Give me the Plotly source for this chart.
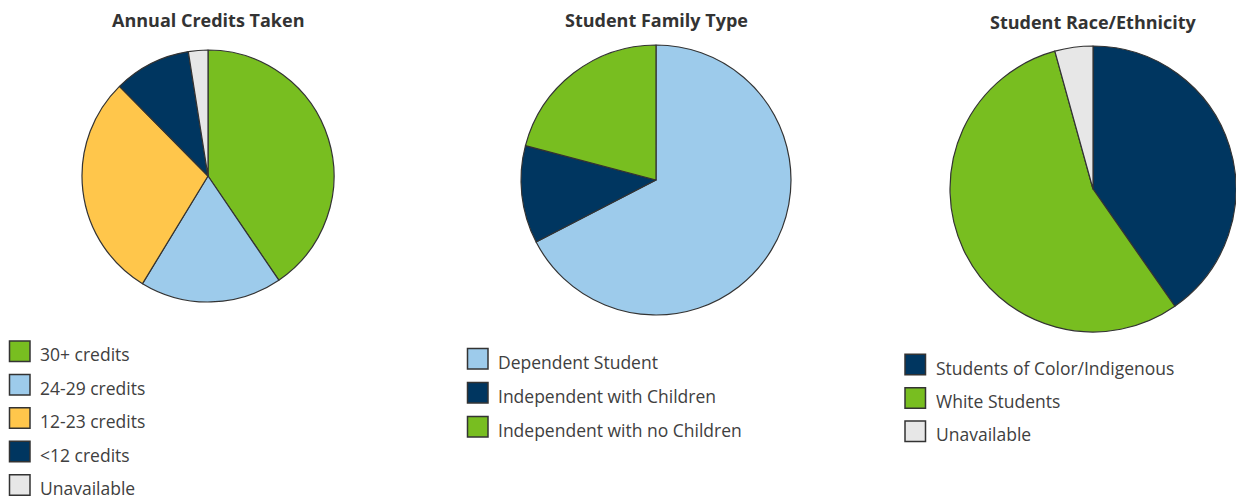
import plotly.graph_objects as go

W, H = 1236, 502

# Chart 1: annual credits taken
credit_labels = ["30+ credits", "24-29 credits", "12-23 credits", "<12 credits", "Unavailable"]
credit_values = [40.5, 18.2, 28.9, 9.9, 2.5]

# Chart 2: student family type
family_labels = ["Dependent Student", "Independent with Children", "Independent with no Children"]
family_values = [67.4, 11.7, 20.9]

# Chart 3: student race/ethnicity
race_labels = ["Students of Color/Indigenous", "White Students", "Unavailable"]
race_values = [40.3, 55.4, 4.3]

GREEN = "#78BE20"
LIGHT_BLUE = "#9DCBEB"
YELLOW = "#FFC64B"
NAVY = "#003660"
GRAY = "#E7E7E7"
OUTLINE = "#333333"
TEXT = "#404040"

credit_colors = [GREEN, LIGHT_BLUE, YELLOW, NAVY, GRAY]
family_colors = [LIGHT_BLUE, NAVY, GREEN]
race_colors = [NAVY, GREEN, GRAY]


def px_x(x):
    return x / W


def px_y(y):
    return 1 - y / H


def domain(left, top, right, bottom):
    return dict(x=[px_x(left), min(px_x(right), 1.0)],
                y=[px_y(bottom), px_y(top)])


charts = [
    # labels, values, colors, pie box (l, t, r, b), title (cx, cy), legend (square x, text x, first y, step)
    (credit_labels, credit_values, credit_colors, (82, 50, 334, 302),
     "Annual Credits Taken", (208, 20), (9.5, 40, 351.3, 33.4)),
    (family_labels, family_values, family_colors, (521, 45, 791, 315),
     "Student Family Type", (656, 20), (467.5, 498, 358.7, 34.0)),
    (race_labels, race_values, race_colors, (950, 45, 1236, 333),
     "Student Race/Ethnicity", (1093, 22.5), (905, 936, 364.5, 33.4)),
]

fig = go.Figure()
shapes = []
annotations = []
SQ = 20.5

for labels, values, colors, box, title, tpos, leg in charts:
    fig.add_trace(go.Pie(
        labels=labels,
        values=values,
        sort=False,
        direction="clockwise",
        rotation=0,
        marker=dict(colors=colors, line=dict(color=OUTLINE, width=1.2)),
        textinfo="none",
        hoverinfo="label+percent",
        showlegend=False,
        domain=domain(*box),
    ))
    annotations.append(dict(
        x=px_x(tpos[0]), y=px_y(tpos[1]), xref="paper", yref="paper",
        xanchor="center", yanchor="middle", showarrow=False,
        text="<b>%s</b>" % title,
        font=dict(family="Open Sans", size=18, color="#333333"),
    ))
    sq_x, text_x, y0, step = leg
    for i, (lab, col) in enumerate(zip(labels, colors)):
        cy = y0 + i * step
        shapes.append(dict(
            type="rect", xref="paper", yref="paper",
            x0=px_x(sq_x), x1=px_x(sq_x + SQ),
            y0=px_y(cy + SQ / 2), y1=px_y(cy - SQ / 2),
            fillcolor=col, line=dict(color=OUTLINE, width=1.5),
        ))
        annotations.append(dict(
            x=px_x(text_x - 2), y=px_y(cy + 3), xref="paper", yref="paper",
            xanchor="left", yanchor="middle", showarrow=False,
            text=lab,
            font=dict(family="Open Sans", size=17.5, color=TEXT),
        ))

fig.update_layout(
    width=W, height=H,
    margin=dict(l=0, r=0, t=0, b=0),
    paper_bgcolor="white",
    plot_bgcolor="white",
    shapes=shapes,
    annotations=annotations,
)

fig.write_html("out.html")
